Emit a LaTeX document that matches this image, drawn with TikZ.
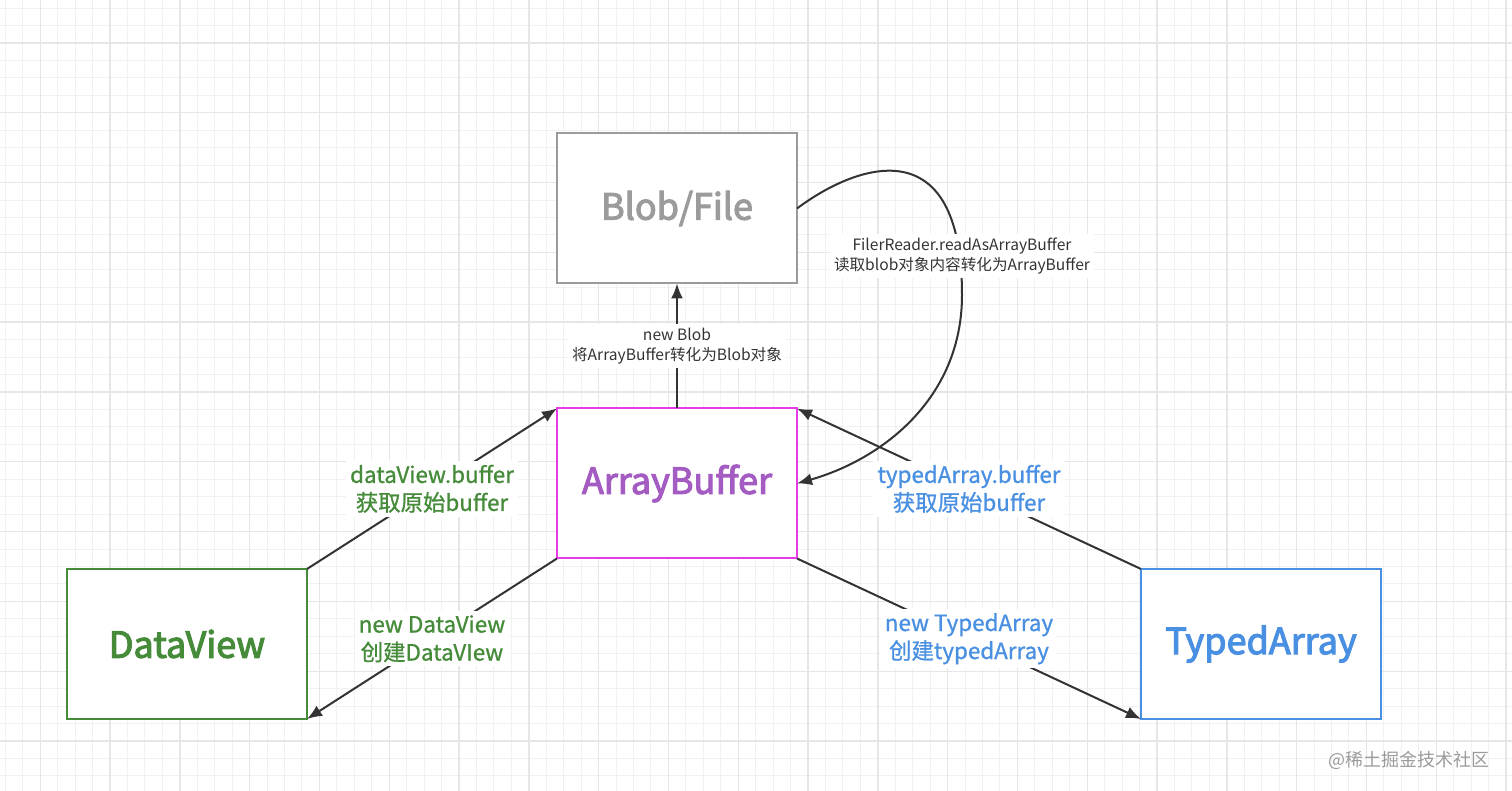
\documentclass[tikz,border=0pt]{standalone}
\usepackage{fontspec}
\setmainfont{Noto Sans CJK SC}
\newfontfamily\boxfont[FakeBold=3]{Noto Sans CJK SC}
\newfontfamily\labelfont[FakeBold=1]{Noto Sans CJK SC}
\usetikzlibrary{arrows.meta}

\definecolor{linegray}{HTML}{333333}
\definecolor{blobgray}{HTML}{9B9B9B}
\definecolor{buffermag}{HTML}{E83BE8}
\definecolor{buffertext}{HTML}{A45CC2}
\definecolor{viewgreen}{HTML}{458B3A}
\definecolor{typedblue}{HTML}{4A90E2}
\definecolor{minorgrid}{HTML}{F1F1F1}
\definecolor{majorgrid}{HTML}{E6E6E6}

\begin{document}
\begin{tikzpicture}[
        x=0.5pt, y=-0.5pt,
        typebox/.style={draw, line width=1pt, outer sep=0pt, minimum width=120pt, minimum height=75pt, fill=white, font=\boxfont\fontsize{18}{22}\selectfont},
        arr/.style={draw=linegray, line width=1pt, -{Latex[length=7.5pt,width=6pt]}},
        smalllabel/.style={fill=white, align=center, text=linegray, inner sep=2pt, font=\fontsize{7.8}{10}\selectfont},
        biglabel/.style={fill=white, align=center, inner sep=2pt, font=\labelfont\fontsize{11.2}{14}\selectfont}
    ]
        \useasboundingbox (0,0) rectangle (1512,791);
        \fill[white] (0,0) rectangle (1512,791);
        \foreach \i in {0,...,86} {
            \draw[minorgrid, line width=0.5pt] ({5.3+17.45*\i},0) -- ({5.3+17.45*\i},791);
        }
        \foreach \j in {0,...,45} {
            \draw[minorgrid, line width=0.5pt] (0,{8.1+17.45*\j}) -- (1512,{8.1+17.45*\j});
        }
        \foreach \i in {0,...,21} {
            \draw[majorgrid, line width=0.7pt] ({40.2+69.8*\i},0) -- ({40.2+69.8*\i},791);
        }
        \foreach \j in {0,...,11} {
            \draw[majorgrid, line width=0.7pt] (0,{43+69.8*\j}) -- (1512,{43+69.8*\j});
        }

        \node[typebox, draw=blobgray, text=blobgray] (blob) at (677,208.5) {Blob/File};
        \node[typebox, draw=buffermag, text=buffertext] (buffer) at (677,483.5) {ArrayBuffer};
        \node[typebox, draw=viewgreen, text=viewgreen] (dataview) at (187,644) {DataView};
        \node[typebox, draw=typedblue, text=typedblue] (typed) at (1261,644) {TypedArray};

        \draw[arr] (buffer.north) -- node[smalllabel] {new Blob\\将ArrayBuffer转化为Blob对象} (blob.south);
        \draw[arr] (blob.east) .. controls (855,165) and (962,125) .. (962,295)
            .. controls (962,400) and (880,460) .. (buffer.east);
        \node[smalllabel] (readlabel) at (962,256) {FilerReader.readAsArrayBuffer\\读取blob对象内容转化为ArrayBuffer};

        \draw[arr] (dataview.north east) -- node[biglabel, text=viewgreen] {dataView.buffer\\获取原始buffer} (buffer.north west);
        \draw[arr] (buffer.south west) -- node[biglabel, text=viewgreen] {new DataView\\创建DataVIew} (dataview.south east);
        \draw[arr] (typed.north west) -- node[biglabel, text=typedblue] {typedArray.buffer\\获取原始buffer} (buffer.north east);
        \draw[arr] (buffer.south east) -- node[biglabel, text=typedblue] {new TypedArray\\创建typedArray} (typed.south west);

        \node[text=blobgray, font=\fontsize{9}{11}\selectfont] (mark) at (1409,760) {@稀土掘金技术社区};
    \end{tikzpicture}
\end{document}
